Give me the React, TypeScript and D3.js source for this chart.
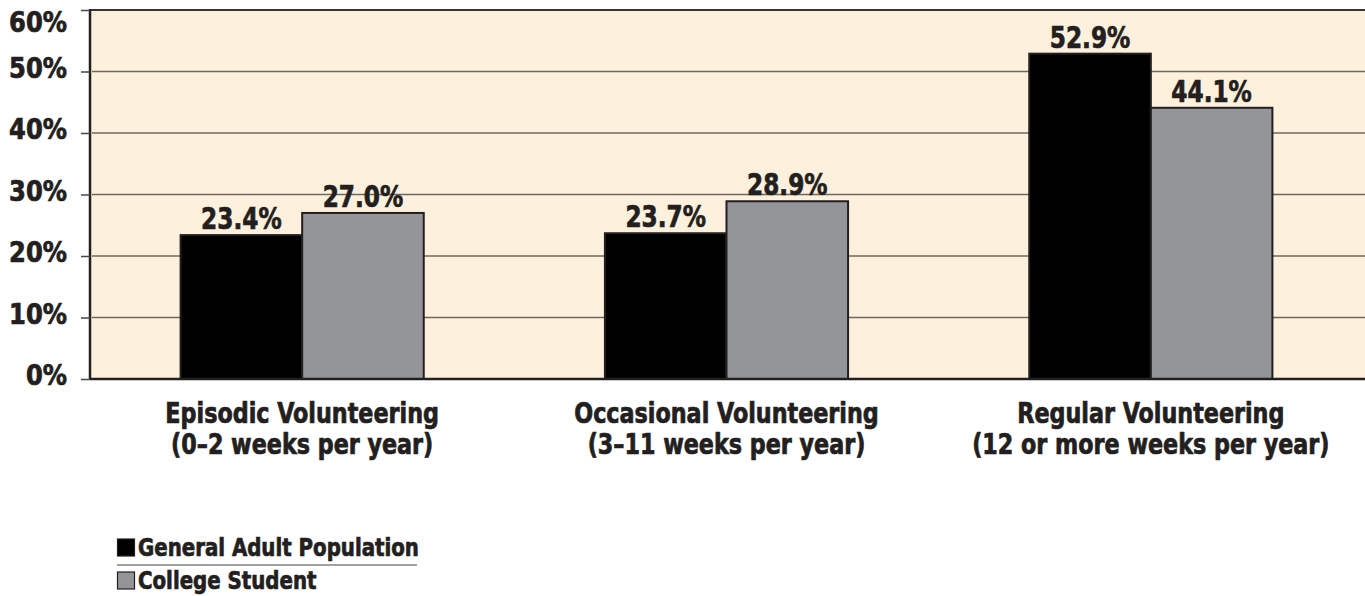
import * as d3 from "d3";
import { useEffect, useRef } from "react";

const categories = ["Episodic", "Occasional", "Regular"];
const categoryLines = [
  ["Episodic Volunteering", "(0–2 weeks per year)"],
  ["Occasional Volunteering", "(3–11 weeks per year)"],
  ["Regular Volunteering", "(12 or more weeks per year)"],
];
const seriesNames = ["General Adult Population", "College Student"];
const generalAdult = [23.4, 23.7, 52.9];
const collegeStudent = [27.0, 28.9, 44.1];
const yTicks = [0, 10, 20, 30, 40, 50, 60];

const FONT = "'DejaVu Sans Condensed', 'DejaVu Sans', sans-serif";
const INK = "#231f20";
const COLORS = ["#000000", "#939598"];

const width = 1365;
const height = 596;
const marginLeft = 90;
const marginRight = 2;
const marginTop = 10;
const plotBottom = 379;

// no condensed heavy font installed, so squeeze + thicken the text
const Narrow = ({
  x,
  y,
  sx,
  size,
  anchor = "start",
  children,
}: {
  x: number;
  y: number;
  sx: number;
  size: number;
  anchor?: string;
  children: React.ReactNode;
}) => (
  <g transform={`translate(${x},${y}) scale(${sx},1)`}>
    <text
      x={0}
      y={0}
      textAnchor={anchor}
      fontFamily={FONT}
      fontWeight="bold"
      fontSize={size}
      fill={INK}
      stroke={INK}
      strokeWidth={0.7}
    >
      {children}
    </text>
  </g>
);

const App = () => {
  const gy = useRef<SVGGElement>(null);

  const x = d3
    .scaleBand()
    .domain(categories)
    .range([marginLeft, width - marginRight])
    .paddingInner(0.427)
    .paddingOuter(0.2135);

  const xs = d3.scaleBand().domain(seriesNames).range([0, x.bandwidth()]);

  const y = d3.scaleLinear().domain([0, 60]).range([plotBottom, marginTop]);

  const color = d3.scaleOrdinal<string, string>().domain(seriesNames).range(COLORS);

  const rows = categories.map((c, i) => ({
    cat: c,
    values: [
      { key: seriesNames[0], v: generalAdult[i] },
      { key: seriesNames[1], v: collegeStudent[i] },
    ],
  }));

  useEffect(() => {
    const g = d3.select(gy.current as SVGGElement);
    g.call(d3.axisLeft(y).tickValues(yTicks).tickSize(9).tickFormat(() => ""));
    g.select(".domain").remove();
    g.selectAll(".tick line").attr("stroke", "#4a4640").attr("stroke-width", 1.5);
  }, [y]);

  return (
    <svg
      width={width}
      height={height}
      viewBox={`0 0 ${width} ${height}`}
      style={{ position: "absolute", left: 0, top: 0, background: "#ffffff" }}
    >
      <rect
        x={marginLeft}
        y={marginTop}
        width={width - marginLeft}
        height={plotBottom - marginTop}
        fill="#fdf0dc"
      />
      <g>
        {yTicks
          .filter((t) => t > 0 && t < 60)
          .map((t) => (
            <line
              key={t}
              x1={marginLeft + 2}
              x2={width}
              y1={y(t)}
              y2={y(t)}
              stroke="#6e685d"
              strokeWidth={1.5}
            />
          ))}
        <line x1={marginLeft} x2={width} y1={y(60)} y2={y(60)} stroke="#3a3632" strokeWidth={1.8} />
      </g>
      <g>
        {rows.map((r) => (
          <g key={r.cat} transform={`translate(${x(r.cat)},0)`}>
            {r.values.map((d) => (
              <rect
                key={d.key}
                x={xs(d.key)}
                y={y(d.v)}
                width={xs.bandwidth()}
                height={y(0) - y(d.v)}
                fill={color(d.key)}
                stroke={INK}
                strokeWidth={2}
              />
            ))}
            {r.values.map((d) => (
              <Narrow
                key={d.key + "-l"}
                x={(xs(d.key) ?? 0) + xs.bandwidth() / 2}
                y={y(d.v) - 6}
                sx={0.86}
                size={30}
                anchor="middle"
              >
                {d.v.toFixed(1)}%
              </Narrow>
            ))}
          </g>
        ))}
      </g>
      <line x1={marginLeft} x2={width} y1={plotBottom} y2={plotBottom} stroke={INK} strokeWidth={2.5} />
      <line x1={marginLeft} x2={marginLeft} y1={marginTop - 1} y2={plotBottom + 1} stroke={INK} strokeWidth={2.5} />
      <g ref={gy} transform={`translate(${marginLeft},0)`} />
      <g>
        {yTicks.map((t) => (
          <Narrow key={t} x={67} y={Math.max(y(t) + 6, 32)} sx={0.96} size={28} anchor="end">
            {t}%
          </Narrow>
        ))}
      </g>
      <g>
        {categories.map((c, i) =>
          categoryLines[i].map((ln, j) => (
            <Narrow
              key={c + j}
              x={(x(c) ?? 0) + x.bandwidth() / 2}
              y={423 + j * 31}
              sx={0.9}
              size={27.5}
              anchor="middle"
            >
              {ln}
            </Narrow>
          ))
        )}
      </g>
      <g transform="translate(117,0)">
        {seriesNames.map((s, i) => (
          <g key={s}>
            <rect
              x={0.5}
              y={539 + i * 33}
              width={17}
              height={17}
              fill={color(s)}
              stroke={INK}
              strokeWidth={1.2}
            />
            <Narrow x={21} y={556 + i * 33} sx={0.88} size={25}>
              {s}
            </Narrow>
          </g>
        ))}
        <line x1={0} x2={300} y1={565} y2={565} stroke="#808080" strokeWidth={1.5} />
      </g>
    </svg>
  );
};

export default App;
